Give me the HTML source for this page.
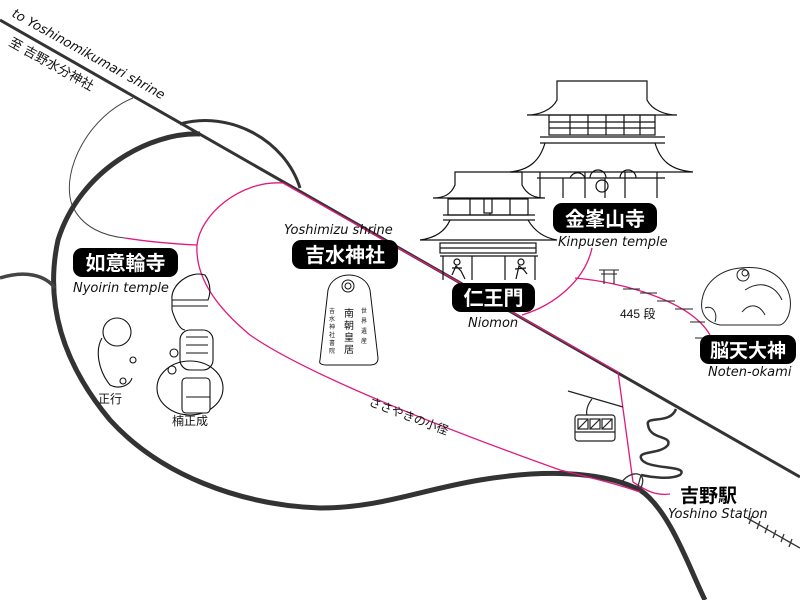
<!DOCTYPE html>
<html><head><meta charset="utf-8"><style>
html,body{margin:0;padding:0;background:#fff}
svg{display:block}
.jp{font-family:"Liberation Sans","Noto Sans CJK JP",sans-serif}
.en{font-family:"DejaVu Sans","Liberation Sans",sans-serif;font-style:italic}
</style></head><body>
<svg width="800" height="600" viewBox="0 0 800 600" xmlns="http://www.w3.org/2000/svg">
<rect width="800" height="600" fill="#fff"/>
<path d="M133,98 C90,115 60,170 72,205 C82,228 105,236 125,238" fill="none" stroke="#444" stroke-width="1"/>
<path d="M200,134 C150,132 80,170 58,240 C45,300 60,360 110,420 C160,475 240,505 320,508 C380,508 420,490 480,480 C540,470 600,470 640,490 C670,510 690,570 705,600" fill="none" stroke="#333" stroke-width="5"/>
<path d="M0,278 C25,270 45,275 55,288" fill="none" stroke="#444" stroke-width="3.5"/>
<path d="M180,124 C230,110 285,140 300,188" fill="none" stroke="#333" stroke-width="3"/>
<line x1="0" y1="20" x2="800" y2="477" stroke="#333" stroke-width="3"/>
<g fill="none" stroke="#e0197d" stroke-width="1.3">
<path d="M125,238 C150,242 175,244 197,245"/>
<path d="M283,183 C240,180 200,215 197,245 C195,280 220,310 250,335 C300,370 420,420 560,470 C600,480 620,485 640,492"/>
<path d="M283,183 L618,372 L633,482 C645,490 655,496 670,494"/>
<path d="M522,315 C555,305 585,280 592,248"/>
<path d="M575,278 C620,282 690,300 710,335"/>
</g>
<path d="M622,482 C630,470 650,470 640,490 M641,475 L637,490" fill="none" stroke="#333" stroke-width="1.3"/>
<path d="M676,409 C670,425 645,415 648,425 C650,440 672,435 668,445 C660,455 635,450 642,460 C650,470 690,465 680,475 C670,480 650,477 641,475" fill="none" stroke="#333" stroke-width="2.5"/>
<g stroke="#333" stroke-width="1.3"><line x1="747" y1="518" x2="800" y2="548"/>
<line x1="752" y1="516" x2="749" y2="524"/><line x1="760" y1="521" x2="757" y2="529"/><line x1="768" y1="525" x2="765" y2="533"/><line x1="776" y1="530" x2="773" y2="538"/><line x1="784" y1="534" x2="781" y2="542"/><line x1="792" y1="539" x2="789" y2="547"/></g>
<g fill="none" stroke="#222" stroke-width="1.2">
<line x1="568" y1="391" x2="623" y2="407"/>
<path d="M592,399 C587,405 586,412 587,415"/>
<rect x="575" y="415" width="40" height="26" rx="3"/>
<line x1="575" y1="432" x2="615" y2="432"/>
<rect x="578" y="419" width="10" height="10"/><rect x="590" y="419" width="10" height="10"/><rect x="602" y="419" width="10" height="10"/>
<line x1="578" y1="429" x2="588" y2="419"/><line x1="590" y1="429" x2="600" y2="419"/><line x1="602" y1="429" x2="612" y2="419"/>
</g>
<g fill="none" stroke="#111" stroke-width="1.2">
<path d="M557,81 H647 V100 C652,110 665,115 677,115 H527 C539,115 552,110 557,100 Z"/>
<rect x="549" y="115" width="106" height="20"/>
<path d="M549,122 H655 M549,128 H655"/>
<path d="M570,115 V135 M588,115 V135 M606,115 V135 M624,115 V135 M640,115 V135"/>
<path d="M540,137 H665 M540,143 H665"/>
<path d="M545,143 C540,160 530,170 510,172 H693 C670,170 660,160 655,143"/>
<path d="M537,178 H665 M540,172 V198 M563,178 V198 M585,172 V198 M605,178 V198 M625,172 V198 M657,172 V198"/>
<circle cx="602" cy="186" r="6"/><path d="M570,178 A8,8 0 0 1 585,178 M590,178 A8,8 0 0 1 606,178 M620,178 A8,8 0 0 1 636,178"/>
</g>
<g fill="none" stroke="#111" stroke-width="1.2">
<path d="M455,172 H522 V185 C527,195 535,198 545,198 H433 C443,198 451,195 455,185 Z"/>
<rect x="448" y="199" width="80" height="16"/>
<path d="M470,199 V215 M490,199 V215 M510,199 V215"/>
<rect x="484" y="199" width="8" height="14" fill="#fff"/>
<path d="M443,215 H535 M443,220 H535"/>
<path d="M450,220 C445,232 435,238 420,240 H557 C545,238 535,232 528,220"/>
<rect x="440" y="243" width="96" height="10"/>
<path d="M440,248 H536"/>
<path d="M440,256 H538 M443,256 V280 M535,256 V280 M472,256 V280 M505,256 V280"/>
<circle cx="457" cy="262" r="3"/><path d="M452,275 L456,266 L461,271 L465,279 M452,268 L462,268"/>
<circle cx="521" cy="262" r="3"/><path d="M516,279 L519,266 L524,270 L527,274 M515,269 L526,268"/>
</g>
<g fill="none" stroke="#222" stroke-width="1.1">
<path d="M599,270 H619 M601,274 H617 M604,270 V284 M614,270 V284"/>
<path d="M623,289 H640 M640,293 H657 M657,301 H675 M675,309 H693 M690,322 H705 M695,338 H708"/>
</g>
<g fill="none" stroke="#222" stroke-width="1">
<path d="M702,300 C705,282 720,270 740,268 C760,266 775,270 785,285 C795,300 790,322 780,325 H720 C705,322 700,312 702,300 Z"/>
<circle cx="743" cy="275" r="6"/><circle cx="745" cy="273" r="3"/>
<path d="M705,308 C712,305 718,312 715,322 M745,290 C760,280 775,285 782,300 M742,312 C750,302 760,305 765,315"/>
</g>
<g fill="none" stroke="#111" stroke-width="1">
<path d="M320,360 L328,290 C333,270 365,270 370,290 L378,358 Q378,365 370,365 H327 Q318,365 320,360 Z"/>
<circle cx="348" cy="286" r="6"/><circle cx="348" cy="286" r="3"/>
</g>
<g class="jp" fill="#111">
<text x="344" y="317" font-size="10">南</text><text x="344" y="329" font-size="10">朝</text><text x="344" y="341" font-size="10">皇</text><text x="344" y="353" font-size="10">居</text>
<text x="361" y="313" font-size="6">世</text><text x="361" y="323" font-size="6">界</text><text x="361" y="333" font-size="6">遺</text><text x="361" y="343" font-size="6">産</text>
<text x="329" y="313" font-size="6">吉</text><text x="329" y="321" font-size="6">水</text><text x="329" y="329" font-size="6">神</text><text x="329" y="337" font-size="6">社</text><text x="329" y="345" font-size="6">書</text><text x="329" y="353" font-size="6">院</text>
</g>
<g fill="none" stroke="#111" stroke-width="1.1">
<circle cx="117" cy="332" r="14"/><path d="M102,338 C95,350 98,370 110,385 C120,390 130,385 132,378"/>
<circle cx="133" cy="360" r="3"/><circle cx="123" cy="381" r="3"/>
<path d="M172,300 C170,285 190,270 205,275 C212,285 210,295 208,300 H172 Z"/><path d="M172,300 V310 C175,320 180,330 185,330 M172,306 H208"/>
<rect x="180" y="330" width="33" height="40" rx="10"/><path d="M186,337 H208 M186,345 H208 M186,353 H208"/>
<ellipse cx="190" cy="388" rx="33" ry="27"/><rect x="182" y="378" width="28" height="35" rx="4" fill="#fff"/>
<circle cx="174" cy="353" r="4"/><circle cx="172" cy="370" r="4"/><path d="M186,397 H210"/>
</g>
<g class="jp">
<rect x="73" y="248" width="105" height="29" rx="9" fill="#000"/><text x="125.5" y="270" font-size="20" font-weight="bold" fill="#fff" text-anchor="middle">如意輪寺</text>
<rect x="292" y="240" width="106" height="29" rx="9" fill="#000"/><text x="345" y="262" font-size="20" font-weight="bold" fill="#fff" text-anchor="middle">吉水神社</text>
<rect x="452" y="283" width="83" height="29" rx="9" fill="#000"/><text x="493.5" y="305" font-size="20" font-weight="bold" fill="#fff" text-anchor="middle">仁王門</text>
<rect x="553" y="203" width="104" height="30" rx="9" fill="#000"/><text x="605" y="226" font-size="20" font-weight="bold" fill="#fff" text-anchor="middle">金峯山寺</text>
<rect x="700" y="335" width="96" height="29" rx="9" fill="#000"/><text x="748" y="357" font-size="19" font-weight="bold" fill="#fff" text-anchor="middle">脳天大神</text>
<text x="680" y="502" font-size="19" font-weight="bold" fill="#000">吉野駅</text>
<text x="620" y="318" font-size="12" fill="#111">445 段</text>
<text x="98" y="403" font-size="12" fill="#111">正行</text>
<text x="172" y="425" font-size="12" fill="#111">楠正成</text>
<text x="0" y="0" font-size="12" fill="#111" transform="translate(368,405) rotate(21)">ささやきの小径</text>
<text x="0" y="0" font-size="13" fill="#111" transform="translate(8,45) rotate(29)">至 吉野水分神社</text>
</g>
<g class="en" fill="#111" font-size="13">
<text x="73" y="292">Nyoirin temple</text>
<text x="284" y="234">Yoshimizu shrine</text>
<text x="468" y="327">Niomon</text>
<text x="558" y="246">Kinpusen temple</text>
<text x="708" y="376">Noten-okami</text>
<text x="668" y="518">Yoshino Station</text>
<text x="0" y="0" transform="translate(11,16) rotate(29)">to Yoshinomikumari shrine</text>
</g>
</svg>
</body></html>
